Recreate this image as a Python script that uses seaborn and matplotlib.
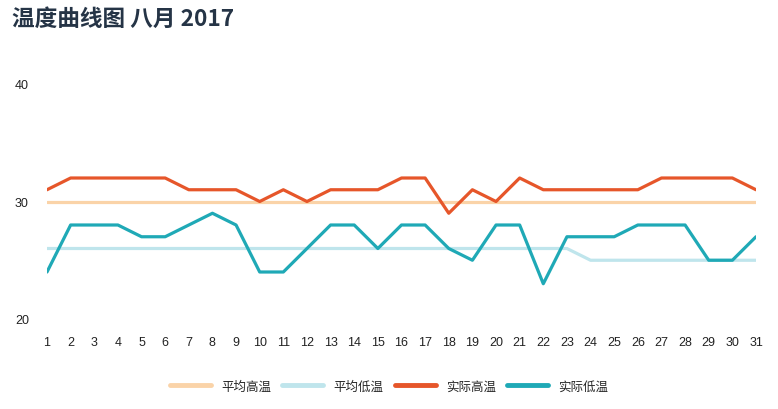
import matplotlib
matplotlib.use("Agg")
import matplotlib.pyplot as plt
import seaborn as sns
import pandas as pd
from matplotlib.lines import Line2D

days = list(range(1, 32))
avg_high = [30] * 31
avg_low = [26] * 23 + [25] * 8
act_high = [31, 32, 32, 32, 32, 32, 31, 31, 31, 30, 31, 30, 31, 31, 31, 32, 32, 29, 31, 30,
            32, 31, 31, 31, 31, 31, 32, 32, 32, 32, 31]
act_low = [24, 28, 28, 28, 27, 27, 28, 29, 28, 24, 24, 26, 28, 28, 26, 28, 28, 26, 25, 28,
           28, 23, 27, 27, 27, 28, 28, 28, 25, 25, 27]
series_names = ["平均高温", "平均低温", "实际高温", "实际低温"]
colors = ["#fad3a8", "#bfe5ec", "#e6562a", "#1fa9b6"]
yticks = [20, 30, 40]

sns.set_theme(style="white")
plt.rcParams['font.family'] = ['Liberation Sans', 'Noto Sans CJK SC', 'DejaVu Sans']

df = pd.DataFrame({"day": days * 4,
                   "temp": avg_high + avg_low + act_high + act_low,
                   "series": sum([[n] * 31 for n in series_names], [])})

fig = plt.figure(figsize=(7.78, 4.10), dpi=100)
ax = fig.add_axes([47 / 778, 90 / 410, (756 - 47) / 778, (320 - 85) / 410])
sns.lineplot(data=df, x="day", y="temp", hue="series", hue_order=series_names,
             palette=colors, linewidth=2.3, ax=ax, legend=False)

ax.set_xlim(1, 31)
ax.set_ylim(20, 40)
ax.set_xticks(days)
ax.set_xticklabels([str(d) for d in days], fontsize=9, color="#222222")
ax.set_yticks(yticks)
ax.set_yticklabels([str(v) for v in yticks], fontsize=9, color="#222222")
ax.tick_params(axis="x", length=0, pad=12)
for lbl in ax.get_yticklabels():
    lbl.set_horizontalalignment("left")
ax.tick_params(axis="y", length=0, pad=23)
ax.set_xlabel("")
ax.set_ylabel("")
for s in ax.spines.values():
    s.set_visible(False)
ax.grid(False)

handles = [Line2D([0], [0], color=c, lw=3.5) for c in colors]
fig.legend(handles, series_names, loc="center", bbox_to_anchor=(0.5, 23 / 410),
           ncol=4, frameon=False, handlelength=3.3, columnspacing=0.9,
           handletextpad=0.8, prop={'family': ['Noto Sans CJK SC'], 'size': 9})

fig.text(12 / 778, 1 - 19 / 410, "温度曲线图 八月 2017", fontsize=16.3, fontweight="bold",
         color="#253446", va="center", ha="left",
         family=['Noto Sans CJK SC', 'DejaVu Sans'])

fig.savefig("out.png", dpi=100)
